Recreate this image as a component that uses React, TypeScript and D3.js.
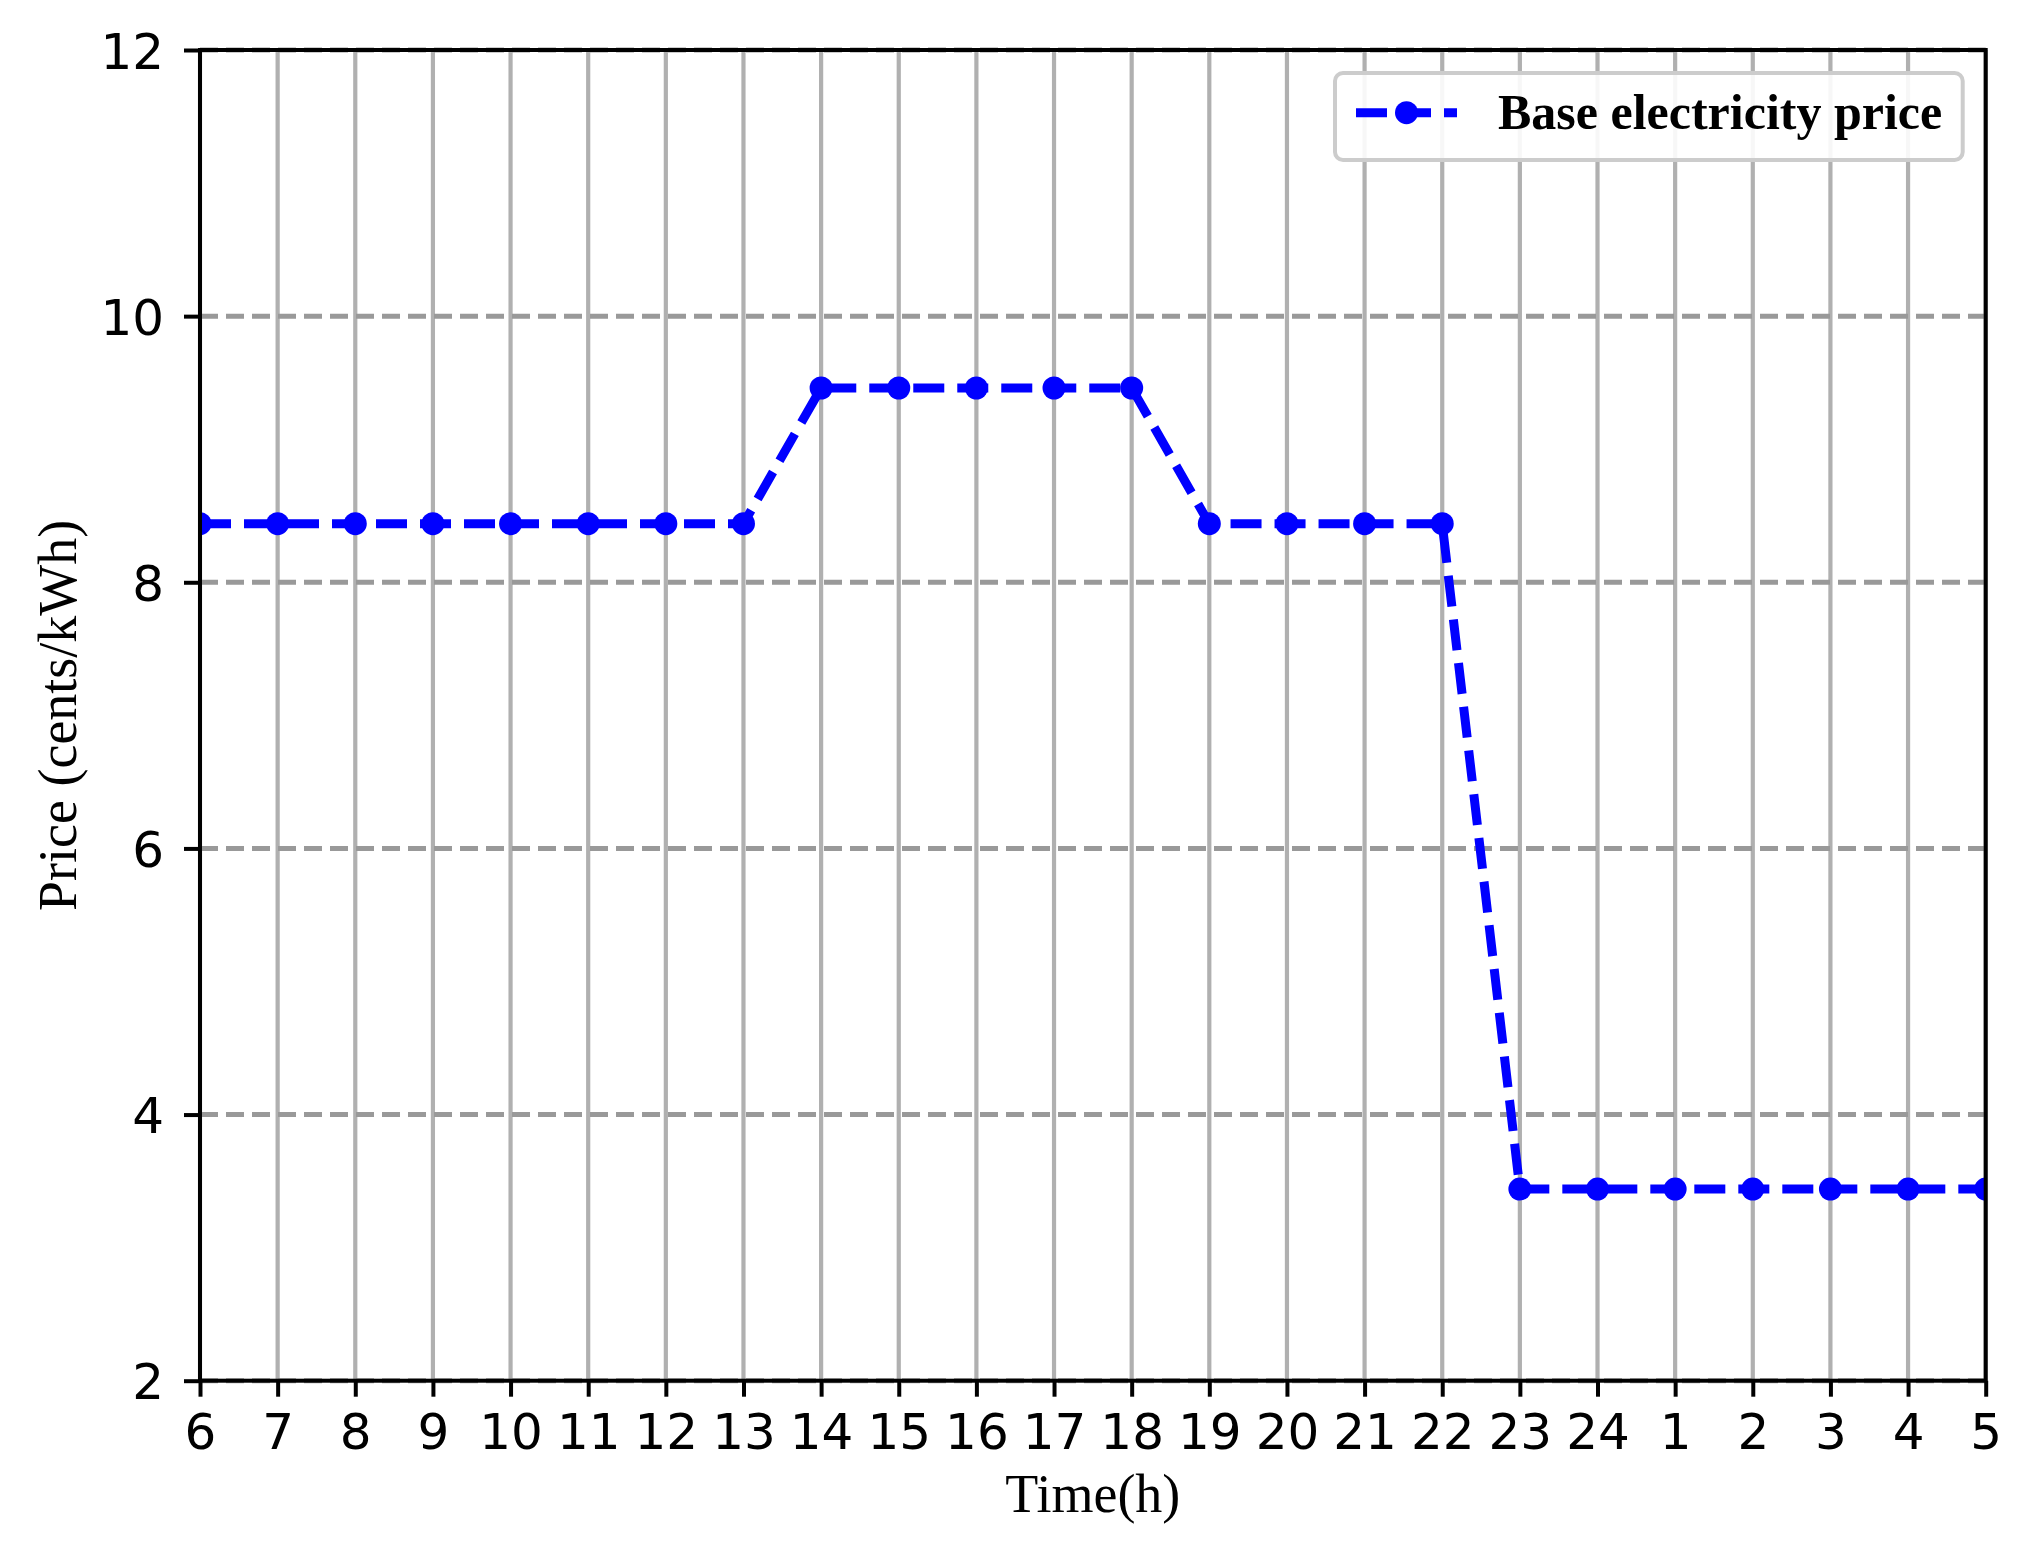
import React, { useEffect, useRef } from "react";
import { select, scaleLinear, scalePoint, line, axisBottom, axisLeft } from "d3";

const hours = ["6", "7", "8", "9", "10", "11", "12", "13", "14", "15", "16", "17", "18", "19", "20", "21", "22", "23", "24", "1", "2", "3", "4", "5"];
const basePrice = [8.44, 8.44, 8.44, 8.44, 8.44, 8.44, 8.44, 8.44, 9.46, 9.46, 9.46, 9.46, 9.46, 8.44, 8.44, 8.44, 8.44, 3.44, 3.44, 3.44, 3.44, 3.44, 3.44, 3.44];
const yTicks = [2, 4, 6, 8, 10, 12];
const seriesName = "Base electricity price";

const W = 2024;
const H = 1550;
const left = 200;
const right = 1985.7;
const top = 50;
const bottom = 1380.7;

const App = () => {
  const svgRef = useRef<SVGSVGElement>(null);

  const x = scalePoint<string>().domain(hours).range([left, right]);
  const y = scaleLinear().domain([2, 12]).range([bottom, top]);

  useEffect(() => {
    const svg = select(svgRef.current);

    const xAxis = axisBottom(x).tickSize(16).tickPadding(17);
    const gx = svg.select<SVGGElement>(".x-axis").attr("transform", `translate(0,${bottom})`).call(xAxis);
    gx.select(".domain").remove();
    gx.selectAll(".tick line").attr("stroke", "#000").attr("stroke-width", 4);
    gx.selectAll(".tick text")
      .attr("font-family", "DejaVu Sans")
      .attr("font-size", 50)
      .attr("fill", "#000");

    const yAxis = axisLeft(y).tickValues(yTicks).tickSize(16).tickPadding(20);
    const gy = svg.select<SVGGElement>(".y-axis").attr("transform", `translate(${left},0)`).call(yAxis);
    gy.select(".domain").remove();
    gy.selectAll(".tick line").attr("stroke", "#000").attr("stroke-width", 4);
    gy.selectAll(".tick text")
      .attr("font-family", "DejaVu Sans")
      .attr("font-size", 50)
      .attr("fill", "#000")
      .attr("dy", "0.36em");
  }, []);

  const path = line<number>()
    .x((d, i) => x(hours[i]) as number)
    .y((d) => y(d))(basePrice);

  return (
    <svg
      ref={svgRef}
      width={W}
      height={H}
      style={{ position: "absolute", left: 0, top: 0, background: "#fff" }}
    >
      <defs>
        <clipPath id="plot">
          <rect x={left} y={top} width={right - left} height={bottom - top} />
        </clipPath>
      </defs>
      <rect width={W} height={H} fill="#fff" />

      {/* vertical grid */}
      {hours.map((h) => (
        <line key={"v" + h} x1={x(h)} x2={x(h)} y1={top} y2={bottom} stroke="#b0b0b0" strokeWidth={4.2} />
      ))}
      {/* horizontal dashed grid */}
      {yTicks.map((t) => (
        <line
          key={"h" + t}
          x1={left}
          x2={right}
          y1={y(t)}
          y2={y(t)}
          stroke="#999999"
          strokeWidth={5}
          strokeDasharray="18,8"
        />
      ))}

      <g clipPath="url(#plot)">
        <path d={path ?? ""} fill="none" stroke="#0000ff" strokeWidth={9} strokeDasharray="31,13" />
        {basePrice.map((v, i) => (
          <circle key={i} cx={x(hours[i])} cy={y(v)} r={11.5} fill="#0000ff" />
        ))}
      </g>

      {/* spines */}
      <rect x={left} y={top} width={right - left} height={bottom - top} fill="none" stroke="#000" strokeWidth={4} />

      <g className="x-axis" />
      <g className="y-axis" />

      <text
        x={(left + right) / 2}
        y={1512}
        textAnchor="middle"
        fontFamily="Liberation Serif"
        fontSize={54}
        fill="#000"
      >
        Time(h)
      </text>
      <text
        transform={`translate(76,${(top + bottom) / 2}) rotate(-90)`}
        textAnchor="middle"
        fontFamily="Liberation Serif"
        fontSize={54}
        fill="#000"
      >
        Price (cents/kWh)
      </text>

      {/* legend */}
      <g>
        <rect x={1335} y={73} width={1962.7 - 1335} height={87} rx={8} fill="#fff" fillOpacity={0.9} stroke="#cccccc" strokeWidth={4} />
        <line x1={1356} x2={1457} y1={112.7} y2={112.7} stroke="#0000ff" strokeWidth={9} strokeDasharray="31,13" />
        <circle cx={1406.5} cy={112.7} r={11.5} fill="#0000ff" />
        <text x={1498} y={129} fontFamily="Liberation Serif" fontWeight="bold" fontSize={50} fill="#000">
          {seriesName}
        </text>
      </g>
    </svg>
  );
};

export default App;
